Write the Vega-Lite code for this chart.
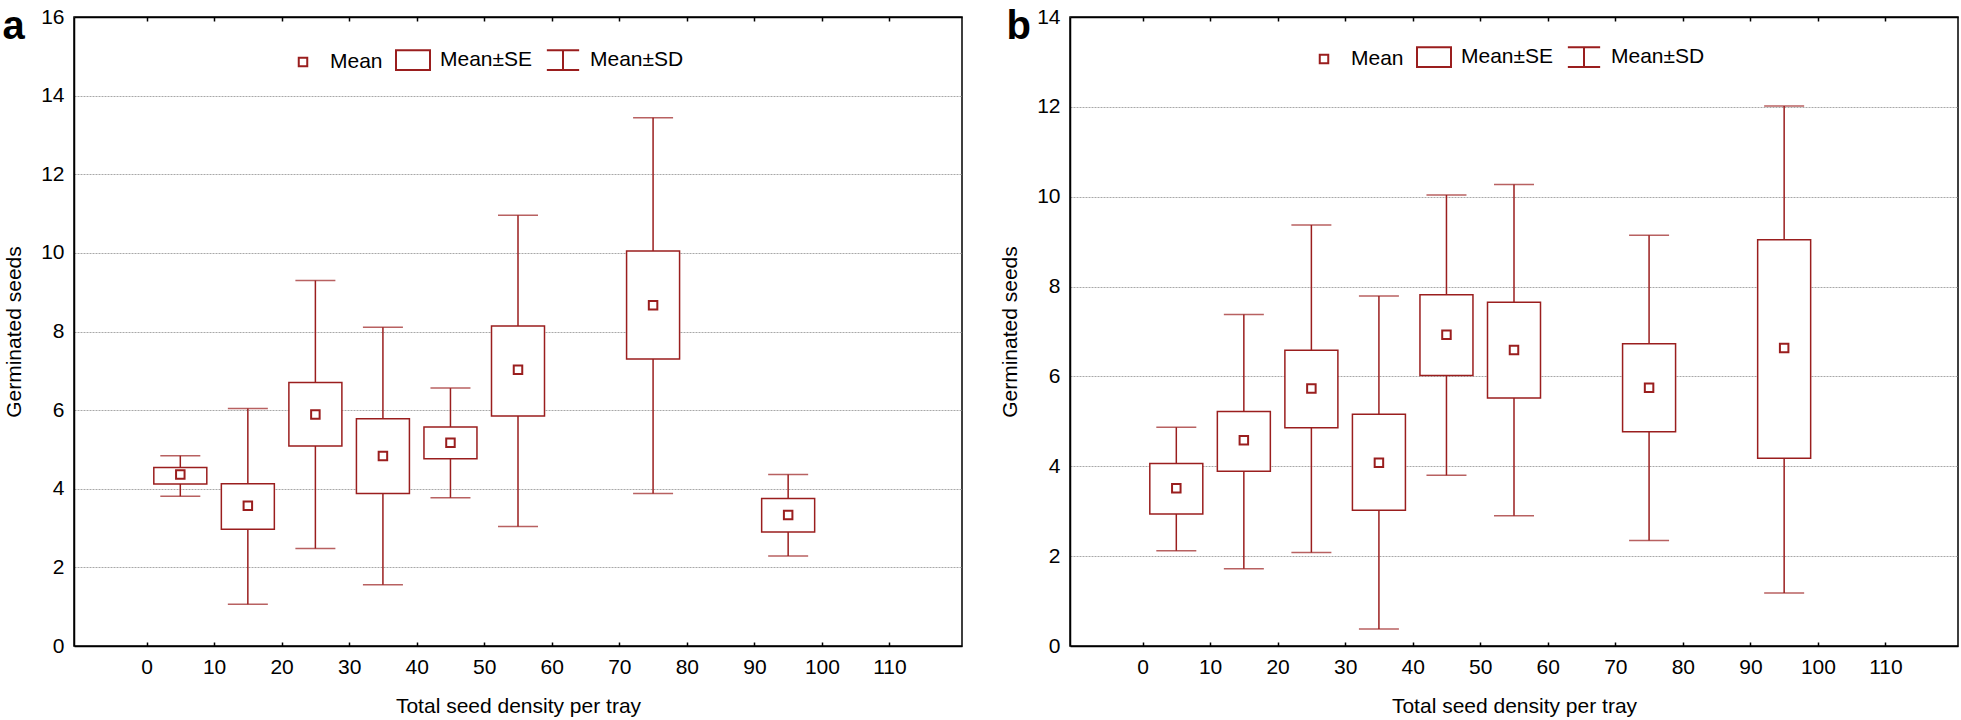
{
  "$schema": "https://vega.github.io/schema/vega-lite/v6.json",
  "padding": {"left": 1, "top": 5, "right": 5, "bottom": 5},
  "bounds": "flush",
  "spacing": 108,
  "background": "white",
  "config": {
    "font": "Liberation Sans",
    "view": {"stroke": "black", "strokeWidth": 1.5},
    "axis": {"labelFontSize": 21, "titleFontSize": 21, "titleFontWeight": "normal", "labelColor": "black", "titleColor": "black", "domainColor": "black", "tickColor": "black", "domainWidth": 1.5, "tickWidth": 1.5, "labelFont": "Liberation Sans", "titleFont": "Liberation Sans"},
    "legend": {"labelFontSize": 21, "labelFont": "Liberation Sans", "labelColor": "black"}
  },
  "datasets": {
    "a": [
      {"density": 5, "mean": 4.36, "seLow": 4.12, "seHigh": 4.54, "sdLow": 3.81, "sdHigh": 4.84},
      {"density": 15, "mean": 3.57, "seLow": 2.97, "seHigh": 4.13, "sdLow": 1.06, "sdHigh": 6.04},
      {"density": 25, "mean": 5.89, "seLow": 5.09, "seHigh": 6.70, "sdLow": 2.48, "sdHigh": 9.30},
      {"density": 35, "mean": 4.83, "seLow": 3.88, "seHigh": 5.78, "sdLow": 1.56, "sdHigh": 8.11},
      {"density": 45, "mean": 5.17, "seLow": 4.76, "seHigh": 5.57, "sdLow": 3.77, "sdHigh": 6.56},
      {"density": 55, "mean": 7.03, "seLow": 5.85, "seHigh": 8.14, "sdLow": 3.04, "sdHigh": 10.96},
      {"density": 75, "mean": 8.67, "seLow": 7.30, "seHigh": 10.05, "sdLow": 3.88, "sdHigh": 13.44},
      {"density": 95, "mean": 3.33, "seLow": 2.90, "seHigh": 3.75, "sdLow": 2.29, "sdHigh": 4.36}
    ],
    "b": [
      {"density": 5, "mean": 3.51, "seLow": 2.94, "seHigh": 4.06, "sdLow": 2.12, "sdHigh": 4.87},
      {"density": 15, "mean": 4.58, "seLow": 3.89, "seHigh": 5.22, "sdLow": 1.72, "sdHigh": 7.38},
      {"density": 25, "mean": 5.73, "seLow": 4.86, "seHigh": 6.58, "sdLow": 2.08, "sdHigh": 9.37},
      {"density": 35, "mean": 4.08, "seLow": 3.02, "seHigh": 5.16, "sdLow": 0.38, "sdHigh": 7.79},
      {"density": 45, "mean": 6.93, "seLow": 6.02, "seHigh": 7.82, "sdLow": 3.80, "sdHigh": 10.04},
      {"density": 55, "mean": 6.59, "seLow": 5.52, "seHigh": 7.65, "sdLow": 2.90, "sdHigh": 10.27},
      {"density": 75, "mean": 5.75, "seLow": 4.77, "seHigh": 6.73, "sdLow": 2.35, "sdHigh": 9.14},
      {"density": 95, "mean": 6.63, "seLow": 4.18, "seHigh": 9.04, "sdLow": 1.18, "sdHigh": 12.02}
    ]
  },
  "resolve": {"scale": {"shape": "independent"}, "legend": {"shape": "independent"}},
  "hconcat": [
    {
      "width": 888,
      "height": 629,
      "data": {"name": "a"},
      "resolve": {"axis": {"x": "independent"}},
      "layer": [
        {
          "mark": {"type": "rule", "color": "#9a1e1e", "strokeWidth": 1.5},
          "encoding": {
            "x": {"field": "density", "type": "quantitative", "scale": {"domain": [-10, 120], "nice": false, "zero": false},
                  "axis": {"orient": "bottom", "values": [0, 10, 20, 30, 40, 50, 60, 70, 80, 90, 100, 110], "tickSize": -4, "labelPadding": 14, "grid": false, "title": "Total seed density per tray", "titlePadding": 18}},
            "y": {"field": "sdLow", "type": "quantitative", "scale": {"domain": [0, 16], "nice": false},
                  "axis": {"title": "Germinated seeds", "values": [0, 2, 4, 6, 8, 10, 12, 14, 16], "ticks": false, "grid": true, "gridColor": "#a8a8a8", "gridDash": [2, 1], "labelPadding": 10, "titlePadding": 16}},
            "y2": {"field": "sdHigh"}
          }
        },
        {
          "mark": {"type": "tick", "orient": "horizontal", "size": 40, "thickness": 1.5, "color": "#9a1e1e"},
          "encoding": {
            "x": {"field": "density", "type": "quantitative", "scale": {"domain": [-10, 120], "nice": false, "zero": false},
                  "axis": {"orient": "top", "values": [0, 10, 20, 30, 40, 50, 60, 70, 80, 90, 100, 110], "tickSize": -4, "labels": false, "grid": false,
                           "title": "a", "titleX": -72, "titleY": 21, "titleAlign": "left", "titleBaseline": "alphabetic", "titleAngle": 0, "titleAnchor": null, "titleFontSize": 40, "titleFontWeight": "bold", "titleColor": "black"}},
            "y": {"field": "sdHigh", "type": "quantitative", "scale": {"domain": [0, 16], "nice": false}, "title": "Germinated seeds"}
          }
        },
        {
          "mark": {"type": "tick", "orient": "horizontal", "size": 40, "thickness": 1.5, "color": "#9a1e1e"},
          "encoding": {
            "x": {"field": "density", "type": "quantitative", "scale": {"domain": [-10, 120], "nice": false, "zero": false}, "axis": null},
            "y": {"field": "sdLow", "type": "quantitative", "scale": {"domain": [0, 16], "nice": false}, "title": "Germinated seeds"}
          }
        },
        {
          "mark": {"type": "bar", "size": 53, "fill": "white", "stroke": "#9a1e1e", "strokeWidth": 1.5},
          "encoding": {
            "x": {"field": "density", "type": "quantitative", "scale": {"domain": [-10, 120], "nice": false, "zero": false}, "axis": null},
            "y": {"field": "seLow", "type": "quantitative", "scale": {"domain": [0, 16], "nice": false}, "title": "Germinated seeds"},
            "y2": {"field": "seHigh"}
          }
        },
        {
          "mark": {"type": "point", "filled": false, "size": 1156, "color": "#9a1e1e", "strokeWidth": 2, "opacity": 1},
          "encoding": {
            "x": {"field": "density", "type": "quantitative", "scale": {"domain": [-10, 120], "nice": false, "zero": false}, "axis": null},
            "y": {"field": "mean", "type": "quantitative", "scale": {"domain": [0, 16], "nice": false}, "title": "Germinated seeds"},
            "shape": {"datum": "Mean", "type": "nominal",
                      "scale": {"domain": ["Mean", "Mean±SE", "Mean±SD"], "range": ["M-0.25,-0.25H0.25V0.25H-0.25Z", "M-1,-0.58H1V0.58H-1Z", "M-0.95,-0.58H0.95M0,-0.58V0.58M-0.95,0.58H0.95"]},
                      "legend": {"title": null, "orient": "none", "legendX": 211, "legendY": 25, "direction": "horizontal", "padding": 0, "labelOffset": 9, "columnPadding": 9, "symbolStrokeWidth": 2, "symbolStrokeColor": "#9a1e1e", "symbolFillColor": "transparent", "symbolSize": 1156, "labelFontSize": 21, "labelColor": "black"}}
          }
        }
      ]
    },
    {
      "width": 888,
      "height": 629,
      "data": {"name": "b"},
      "resolve": {"axis": {"x": "independent"}},
      "layer": [
        {
          "mark": {"type": "rule", "color": "#9a1e1e", "strokeWidth": 1.5},
          "encoding": {
            "x": {"field": "density", "type": "quantitative", "scale": {"domain": [-10, 120], "nice": false, "zero": false},
                  "axis": {"orient": "bottom", "values": [0, 10, 20, 30, 40, 50, 60, 70, 80, 90, 100, 110], "tickSize": -4, "labelPadding": 14, "grid": false, "title": "Total seed density per tray", "titlePadding": 18}},
            "y": {"field": "sdLow", "type": "quantitative", "scale": {"domain": [0, 14], "nice": false},
                  "axis": {"title": "Germinated seeds", "values": [0, 2, 4, 6, 8, 10, 12, 14], "ticks": false, "grid": true, "gridColor": "#a8a8a8", "gridDash": [2, 1], "labelPadding": 10, "titlePadding": 16}},
            "y2": {"field": "sdHigh"}
          }
        },
        {
          "mark": {"type": "tick", "orient": "horizontal", "size": 40, "thickness": 1.5, "color": "#9a1e1e"},
          "encoding": {
            "x": {"field": "density", "type": "quantitative", "scale": {"domain": [-10, 120], "nice": false, "zero": false},
                  "axis": {"orient": "top", "values": [0, 10, 20, 30, 40, 50, 60, 70, 80, 90, 100, 110], "tickSize": -4, "labels": false, "grid": false,
                           "title": "b", "titleX": -64, "titleY": 21, "titleAlign": "left", "titleBaseline": "alphabetic", "titleAngle": 0, "titleAnchor": null, "titleFontSize": 40, "titleFontWeight": "bold", "titleColor": "black"}},
            "y": {"field": "sdHigh", "type": "quantitative", "scale": {"domain": [0, 14], "nice": false}, "title": "Germinated seeds"}
          }
        },
        {
          "mark": {"type": "tick", "orient": "horizontal", "size": 40, "thickness": 1.5, "color": "#9a1e1e"},
          "encoding": {
            "x": {"field": "density", "type": "quantitative", "scale": {"domain": [-10, 120], "nice": false, "zero": false}, "axis": null},
            "y": {"field": "sdLow", "type": "quantitative", "scale": {"domain": [0, 14], "nice": false}, "title": "Germinated seeds"}
          }
        },
        {
          "mark": {"type": "bar", "size": 53, "fill": "white", "stroke": "#9a1e1e", "strokeWidth": 1.5},
          "encoding": {
            "x": {"field": "density", "type": "quantitative", "scale": {"domain": [-10, 120], "nice": false, "zero": false}, "axis": null},
            "y": {"field": "seLow", "type": "quantitative", "scale": {"domain": [0, 14], "nice": false}, "title": "Germinated seeds"},
            "y2": {"field": "seHigh"}
          }
        },
        {
          "mark": {"type": "point", "filled": false, "size": 1156, "color": "#9a1e1e", "strokeWidth": 2, "opacity": 1},
          "encoding": {
            "x": {"field": "density", "type": "quantitative", "scale": {"domain": [-10, 120], "nice": false, "zero": false}, "axis": null},
            "y": {"field": "mean", "type": "quantitative", "scale": {"domain": [0, 14], "nice": false}, "title": "Germinated seeds"},
            "shape": {"datum": "Mean", "type": "nominal",
                      "scale": {"domain": ["Mean", "Mean±SE", "Mean±SD"], "range": ["M-0.25,-0.25H0.25V0.25H-0.25Z", "M-1,-0.58H1V0.58H-1Z", "M-0.95,-0.58H0.95M0,-0.58V0.58M-0.95,0.58H0.95"]},
                      "legend": {"title": null, "orient": "none", "legendX": 236, "legendY": 22, "direction": "horizontal", "padding": 0, "labelOffset": 9, "columnPadding": 9, "symbolStrokeWidth": 2, "symbolStrokeColor": "#9a1e1e", "symbolFillColor": "transparent", "symbolSize": 1156, "labelFontSize": 21, "labelColor": "black"}}
          }
        }
      ]
    }
  ]
}
